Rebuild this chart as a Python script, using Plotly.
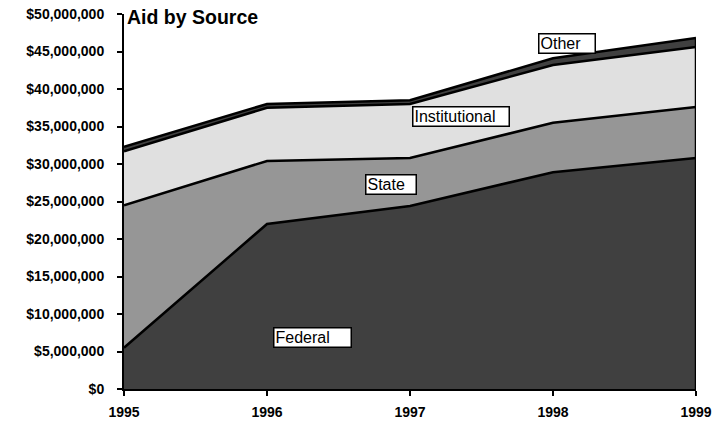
import plotly.graph_objects as go

years = [1995, 1996, 1997, 1998, 1999]
federal = [5.5e6, 22.0e6, 24.4e6, 28.9e6, 30.8e6]
state = [19.0e6, 8.4e6, 6.4e6, 6.6e6, 6.8e6]
institutional = [7.2e6, 7.1e6, 7.2e6, 7.7e6, 8.0e6]
other = [0.6e6, 0.5e6, 0.5e6, 0.9e6, 1.2e6]

series = [
    ('Federal', federal, '#404040'),
    ('State', state, '#969696'),
    ('Institutional', institutional, '#e0e0e0'),
    ('Other', other, '#404040'),
]

# label boxes: (text, x year, y value, box width)
labels = [
    ('Federal', 1996.32, 6.87e6, 74),
    ('State', 1996.87, 27.33e6, 47),
    ('Institutional', 1997.36, 36.33e6, 93),
    ('Other', 1998.10, 46.07e6, 53),
]

FONT = 'Arial, Liberation Sans, sans-serif'

fig = go.Figure()
for name, vals, color in series:
    fig.add_trace(go.Scatter(
        x=years, y=vals, name=name, stackgroup='aid',
        mode='lines', line=dict(color='#000000', width=2.5),
        fillcolor=color, hoverinfo='x+y+name',
    ))

# closing edge at the right end of the stack
total = [sum(v) for v in zip(federal, state, institutional, other)]
fig.add_trace(go.Scatter(
    x=[years[-1], years[-1]], y=[0, total[-1]], mode='lines',
    line=dict(color='#000000', width=2.5), hoverinfo='skip',
))

annotations = [dict(
    text='<b>Aid by Source</b>', xref='paper', yref='paper', x=0, y=1,
    xanchor='left', yanchor='middle', yshift=-3, xshift=1, showarrow=False,
    font=dict(family=FONT, size=19.5, color='#000000'),
)]
for text, x, y, w in labels:
    annotations.append(dict(
        text=text, x=x, y=y, xref='x', yref='y', showarrow=False,
        width=w, height=16, align='left', bgcolor='#ffffff',
        bordercolor='#000000', borderwidth=1.5, borderpad=1,
        font=dict(family=FONT, size=16, color='#000000'),
    ))

fig.update_layout(
    width=723, height=422,
    margin=dict(l=124, r=27, t=14, b=33),
    paper_bgcolor='#ffffff', plot_bgcolor='#ffffff',
    showlegend=False,
    font=dict(family=FONT, color='#000000'),
    annotations=annotations,
)
fig.update_xaxes(
    range=[1995, 1999], tickvals=years, ticktext=[str(y) for y in years],
    showgrid=False, zeroline=False, showline=True, linecolor='#000000', linewidth=2,
    ticks='outside', ticklen=5, tickwidth=2, tickcolor='#000000', automargin=False,
    tickfont=dict(family=FONT, size=14, color='#000000', weight='bold'),
    ticklabelstandoff=4,
)
fig.update_yaxes(
    range=[0, 50e6], dtick=5e6, tickformat='$,',
    showgrid=False, zeroline=False, showline=True, linecolor='#000000', linewidth=2,
    ticks='outside', ticklen=5, tickwidth=2, tickcolor='#000000', automargin=False,
    tickfont=dict(family=FONT, size=14, color='#000000', weight='bold'),
    ticklabelstandoff=10,
)

fig.write_html('out.html', config={'displayModeBar': False},
               post_script="document.body.style.margin='0';")
